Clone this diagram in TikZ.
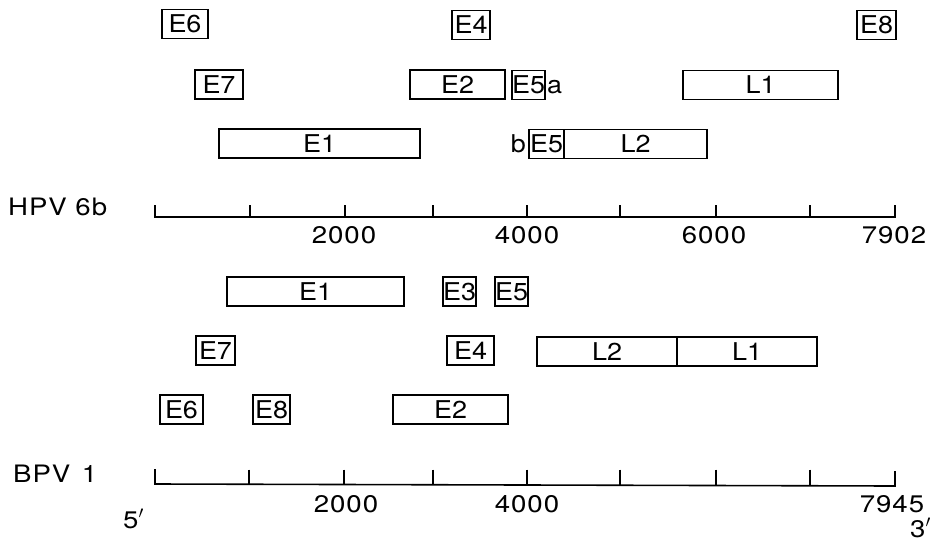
\documentclass[tikz,border=0pt]{standalone}
\usepackage{fontspec}
\setmainfont{TeX Gyre Heros}
\newfontfamily\widefont{TeX Gyre Heros}[FakeStretch=1.15, LetterSpace=4]
\newfontfamily\boxfont{TeX Gyre Heros}[FakeStretch=1.1]
\begin{document}
\begin{tikzpicture}[x=1pt,y=-1pt,
  gbox/.style={draw, line width=1.6pt, inner sep=0pt, minimum height=29pt, font=\boxfont\fontsize{24.5}{24.5}\selectfont},
  lab/.style={inner sep=0pt, font=\boxfont\fontsize{24.5}{24.5}\selectfont},
  num/.style={inner sep=0pt, font=\widefont\fontsize{24}{24}\selectfont},
  axis/.style={line width=1.6pt}]
\useasboundingbox (0,0) rectangle (939,546);
% ---------- HPV 6b ----------
\node[gbox, minimum width=46pt] (hE6) at (185,24) {E6};
\node[gbox, minimum width=38pt] (hE4) at (471,25) {E4};
\node[gbox, minimum width=39pt] (hE8) at (876.5,25) {E8};
\node[gbox, minimum width=48pt] (hE7) at (219,84.5) {E7};
\node[gbox, minimum width=95pt] (hE2) at (457.5,84.5) {E2};
\node[gbox, minimum width=31pt] (hE5a) at (528.5,85) {E5};
\node[lab, anchor=base west] (ha) at (547,93) {a};
\node[gbox, minimum width=155pt] (hL1) at (760.5,85) {L1};
\node[gbox, minimum width=201pt] (hE1) at (319.5,143.5) {E1};
\node[lab, anchor=base east] (hb) at (526,152) {b};
\node[gbox, minimum width=35pt] (hE5b) at (546.5,144) {E5};
\node[gbox, minimum width=143pt] (hL2) at (635.5,144) {L2};
\node[num, anchor=base west] (hname) at (8,215) {HPV 6b};
\draw[axis] (155,205) -- (155,217) -- (895,217) -- (895,205);
\foreach \t/\n in {250/a,345/b,433/c,527/d,620/e,716/f,810/g}
  \draw[axis] (\t,205) coordinate (ht\n) -- (\t,217);
\node[num, anchor=base] (h2000) at (344,243) {2000};
\node[num, anchor=base] (h4000) at (527,243) {4000};
\node[num, anchor=base] (h6000) at (714,243) {6000};
\node[num, anchor=base] (h7902) at (894,243) {7902};
% ---------- BPV 1 ----------
\node[gbox, minimum width=177pt] (bE1) at (315.5,291.5) {E1};
\node[gbox, minimum width=31pt] (bE3) at (459.5,291.5) {E3};
\node[gbox, minimum width=33pt] (bE5) at (511.5,291.5) {E5};
\node[gbox, minimum width=39pt] (bE7) at (215.5,350.5) {E7};
\node[gbox, minimum width=47pt] (bE4) at (470.5,350.5) {E4};
\node[gbox, minimum width=140pt] (bL2) at (607,351.5) {L2};
\node[gbox, minimum width=140pt] (bL1) at (747,351.5) {L1};
\node[gbox, minimum width=43pt] (bE6) at (181.5,409.5) {E6};
\node[gbox, minimum width=37pt] (bE8) at (271.5,409.5) {E8};
\node[gbox, minimum width=115pt] (bE2) at (450.5,409.5) {E2};
\node[num, anchor=base west] (bname) at (13,482) {BPV\ \kern3pt1};
\draw[axis] (155,469) -- (155,484) -- (895,486) -- (895,471);
\foreach \t/\n in {249/a,344/b,433/c,527/d,620/e,716/f,810/g}
  \draw[axis] (\t,469.5) coordinate (bt\n) -- (\t,485);
\node[num, anchor=base] (b2000) at (346,512) {2000};
\node[num, anchor=base] (b4000) at (527,512) {4000};
\node[num, anchor=base] (b7945) at (892,512) {7945};
\node[num, anchor=base west] (b5) at (123,528) {5$'$};
\node[num, anchor=base west] (b3) at (910,537) {3$'$};
\end{tikzpicture}
\end{document}
